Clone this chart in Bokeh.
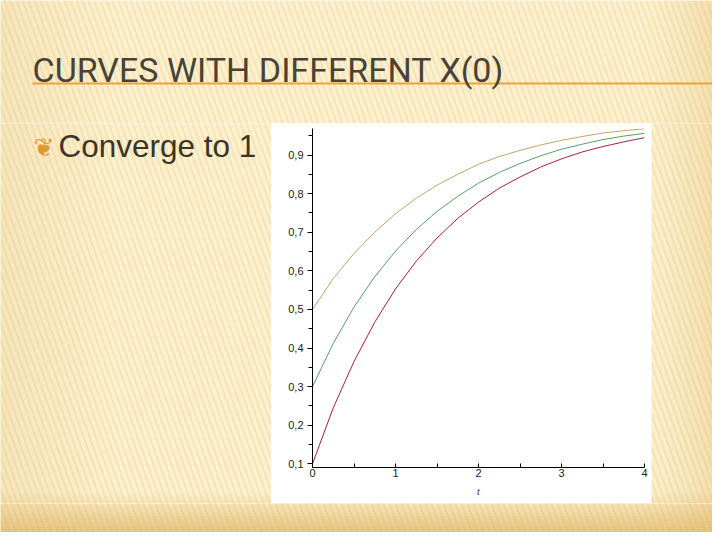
import numpy as np
from bokeh.plotting import figure
from bokeh.models import Range1d, FixedTicker, CustomJSTickFormatter
from bokeh.layouts import column, row
from bokeh.embed import file_html
from bokeh.resources import INLINE
from bokeh.core.properties import value

# ---------------- data ----------------
t_values = [0, 0.25, 0.5, 0.75, 1.0, 1.25, 1.5, 1.75, 2.0, 2.25, 2.5, 2.75, 3.0, 3.25, 3.5, 3.75, 4.0]
x_from_05 = [0.50, 0.58, 0.645, 0.70, 0.748, 0.788, 0.822, 0.850, 0.876, 0.896, 0.912, 0.926, 0.938, 0.948, 0.957, 0.963, 0.968]
x_from_03 = [0.30, 0.412, 0.506, 0.585, 0.651, 0.707, 0.754, 0.793, 0.827, 0.855, 0.878, 0.898, 0.915, 0.928, 0.940, 0.949, 0.956]
x_from_01 = [0.10, 0.245, 0.365, 0.467, 0.553, 0.625, 0.685, 0.736, 0.778, 0.814, 0.843, 0.869, 0.890, 0.908, 0.922, 0.934, 0.945]
x_ticks = [0, 1, 2, 3, 4]
x_minor_ticks = [0.5, 1.5, 2.5, 3.5]
y_ticks = [0.1, 0.2, 0.3, 0.4, 0.5, 0.6, 0.7, 0.8, 0.9]
y_minor_ticks = [0.15, 0.25, 0.35, 0.45, 0.55, 0.65, 0.75, 0.85, 0.95]
title_text = "CURVES WITH DIFFERENT X(0)"
bullet_text = "Converge to 1"
axis_label_text = "t"

# ---------------- slide background (decoration) ----------------
W, H = 712, 532          # page area used (slide coordinates, origin top-left)
SH = 540                 # slide height used for the y flip
BASE = (252, 241, 206)
DARK = (226, 186, 112)


def hexc(c):
    return "#%02x%02x%02x" % tuple(c)


BASE_HEX = hexc(BASE)
DARK_HEX = hexc(DARK)

# bottom gradient bands (alpha over the stripes)
bb_top, bb_bot, bb_alpha = [], [], []
for y in range(480, 540, 2):
    f = min(1.0, max(0.0, (y - 490) / 38.0)) ** 1.1
    if f <= 0:
        continue
    bb_top.append(SH - y); bb_bot.append(SH - y - 2); bb_alpha.append(0.85 * f)
# right / left edge tint bands (alpha)
eb_left, eb_right, eb_alpha = [], [], []
for x in range(630, 720, 3):
    f = min(1.0, max(0.0, (x - 640) / 80.0)) ** 1.5
    if f > 0:
        eb_left.append(x); eb_right.append(x + 3); eb_alpha.append(0.4 * f)
for x in range(0, 110, 3):
    f = (110 - x) / 110.0
    eb_left.append(x); eb_right.append(x + 3); eb_alpha.append(0.2 * f)
# diagonal stripes "/"
st_xs, st_ys = [], []
for c in range(-260, 730, 6):
    st_xs.append([c + 0.36 * 540, c]); st_ys.append([SH - 540, SH - 0])


def bg_fig(x0, x1, y0, y1):
    p = figure(width=x1 - x0, height=y1 - y0,
               x_range=Range1d(x0, x1), y_range=Range1d(SH - y1, SH - y0),
               x_axis_type=None, y_axis_type=None, min_border=0,
               toolbar_location=None, output_backend="svg", title=None)
    p.frame_align = False
    p.outline_line_color = None
    p.background_fill_color = BASE_HEX
    p.border_fill_color = BASE_HEX
    p.quad(left=eb_left, right=eb_right, top=[SH] * len(eb_left), bottom=[0] * len(eb_left),
           fill_color=DARK_HEX, fill_alpha=eb_alpha, line_color=None)
    p.quad(left=[0] * len(bb_top), right=[720] * len(bb_top), top=bb_top, bottom=bb_bot,
           fill_color=DARK_HEX, fill_alpha=bb_alpha, line_color=None)
    p.multi_line(xs=st_xs, ys=st_ys, line_color="#dcae5e", line_alpha=0.2, line_width=2)
    return p


top = bg_fig(0, W, 0, 123)
top.segment(x0=[32], y0=[SH - 83], x1=[720], y1=[SH - 83], line_color="#e8a33a", line_width=2)
top.text(x=[32], y=[SH - 69.5], text=[title_text], text_font=value("Roboto"),
         text_font_size="34px", text_color="#4a4234", text_baseline="middle")

left = bg_fig(0, 271, 123, 503)
left.text(x=[33], y=[SH - 147], text=["\u2766"], text_font=value("DejaVu Sans"),
          text_font_size="25px", text_color="#e09a30", text_baseline="middle")
left.text(x=[58], y=[SH - 145], text=[bullet_text], text_font=value("Liberation Sans"),
          text_font_size="31.5px", text_color="#3c3426", text_baseline="middle")

right = bg_fig(651, W, 123, 503)
bottom = bg_fig(0, W, 503, H)

# ---------------- chart ----------------
chart = figure(width=380, height=380, x_range=Range1d(0, 4), y_range=Range1d(0.0904, 0.9687),
               min_border_left=41, min_border_right=7, min_border_top=5, min_border_bottom=36,
               toolbar_location=None, output_backend="svg", title=None)
chart.frame_align = False
chart.outline_line_color = None
chart.border_fill_color = "white"
chart.background_fill_color = "white"
chart.grid.visible = False

chart.line(t_values, x_from_05, line_color="#c4a468", line_width=1)
chart.line(t_values, x_from_03, line_color="#58a060", line_width=1)
chart.line(t_values, x_from_01, line_color="#a8203c", line_width=1)

xa = chart.xaxis[0]
xa.ticker = FixedTicker(ticks=x_ticks, minor_ticks=x_minor_ticks)
xa.major_tick_in = 4
xa.major_tick_out = 0
xa.minor_tick_in = 4
xa.minor_tick_out = 0
xa.major_label_standoff = 1
xa.axis_label = axis_label_text
xa.axis_label_text_font_style = "italic"
xa.axis_label_text_font = "Liberation Serif"
xa.axis_label_text_font_size = "10px"
xa.axis_label_standoff = 6
xa.axis_label_text_color = "#222222"

ya = chart.yaxis[0]
ya.ticker = FixedTicker(ticks=y_ticks, minor_ticks=y_minor_ticks)
ya.formatter = CustomJSTickFormatter(code="return tick.toFixed(1).replace('.', ',');")
ya.major_tick_in = 0
ya.major_tick_out = 5
ya.minor_tick_in = 0
ya.minor_tick_out = 4
ya.major_label_standoff = 4

for ax in (xa, ya):
    ax.axis_line_color = "black"
    ax.major_tick_line_color = "black"
    ax.minor_tick_line_color = "black"
    ax.major_label_text_font = "Liberation Sans"
    ax.major_label_text_font_size = "11px"
    ax.major_label_text_color = "#222222"

layout = column(top, row(left, chart, right), bottom)
open("out.html", "w").write(file_html(layout, INLINE))
